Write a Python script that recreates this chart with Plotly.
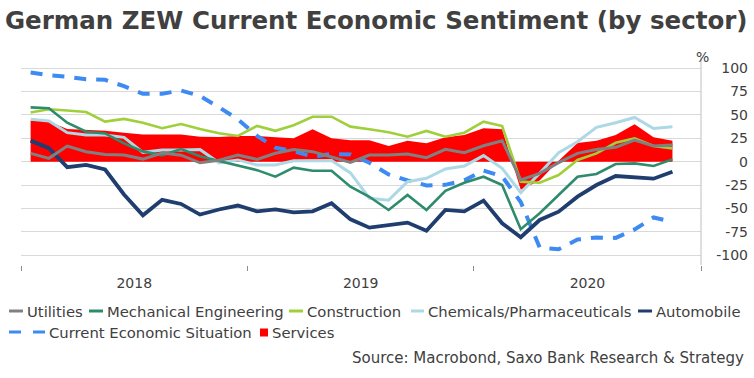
import plotly.graph_objects as go
import pandas as pd

# ---------------- data ----------------
months = pd.date_range("2018-01-01", "2020-11-01", freq="MS").strftime("%Y-%m").tolist()

utilities = [8.9, 3.6, 16.7, 10.7, 7.8, 7.1, 2.8, 9.2, 7.0, -1.2, 1.5, 7.1,
             2.5, 9.0, 13.0, 10.7, 5.0, -0.7, 7.1, 7.1, 8.2, 4.3, 13.2, 9.6,
             17.0, 22.4, -19.5, -12.4, -1.0, 8.9, 13.1, 15.3, 23.0, 16.7, 17.8]
mech_eng = [58.0, 57.0, 41.6, 32.0, 30.2, 19.6, 11.0, 6.8, 13.5, 5.8, 0.8, -4.3,
            -9.0, -16.0, -6.4, -9.6, -9.6, -26.7, -37.4, -51.5, -35.5, -51.5, -31.0, -22.4,
            -16.0, -24.9, -72.0, -55.0, -35.5, -16.0, -13.1, -2.5, -1.8, -4.6, 2.5]
construction = [52.5, 56.0, 54.6, 53.0, 42.8, 45.7, 41.5, 35.8, 40.2, 34.8, 30.4, 27.5,
                38.2, 33.0, 39.0, 48.0, 48.0, 37.4, 34.6, 31.4, 26.7, 32.8, 26.7, 31.0,
                42.7, 38.0, -21.3, -22.4, -14.2, 1.8, 8.9, 20.2, 24.9, 16.7, 14.2]
chemicals = [45.2, 43.4, 31.0, 28.4, 28.4, 26.0, 10.0, 12.6, 12.6, 13.0, -1.2, 1.9,
             -3.5, -3.5, 1.0, 1.5, 1.3, -12.0, -39.0, -41.0, -21.3, -17.7, -7.8, -4.6,
             6.5, -7.0, -33.0, -12.4, 9.6, 21.3, 36.6, 41.6, 47.2, 35.5, 37.3]
automobile = [22.5, 14.4, -5.8, -3.4, -8.3, -35.0, -57.2, -40.7, -45.1, -56.4, -51.0, -46.8,
              -53.0, -50.8, -54.0, -53.0, -44.4, -61.5, -70.4, -67.5, -65.0, -73.6, -51.5, -53.0,
              -41.5, -65.7, -80.6, -62.2, -53.3, -37.3, -24.9, -15.3, -16.7, -18.1, -10.7]
current_situation = [95.2, 92.3, 90.7, 87.9, 87.4, 80.6, 72.4, 72.6, 76.0, 70.1, 58.2, 45.3,
                     27.6, 15.0, 11.1, 5.5, 8.2, 7.8, -1.1, -13.5, -19.9, -25.3, -24.7, -19.9,
                     -9.5, -15.7, -43.1, -91.5, -93.5, -83.1, -80.9, -81.3, -72.3, -59.5, -64.3]
services = [44.0, 43.0, 35.0, 34.0, 33.0, 31.0, 29.0, 29.0, 29.0, 26.5, 26.3, 27.5,
            27.4, 26.0, 25.0, 34.6, 25.0, 23.0, 23.0, 16.8, 22.4, 19.6, 26.0, 28.5,
            35.6, 34.5, -30.0, -20.0, 1.0, 20.0, 22.4, 28.4, 40.0, 26.0, 22.4]

y_tick_vals = [-100, -75, -50, -25, 0, 25, 50, 75, 100]
y_tick_text = ["-100", "-75", "-50", "-25", "0", "25", "50", "75", "100"]

TITLE = "German ZEW Current Economic Sentiment (by sector)"
SOURCE = "Source: Macrobond, Saxo Bank Research & Strategy"

# ---------------- styling ----------------
W, H = 754, 378
ML, MR, MT, MB = 21, 6, 62, 113
PW, PH = W - ML - MR, H - MT - MB
X_END = 701
FONT = "DejaVu Sans"
TXT = "#404040"
LEG_SIZE = 14.8


def px(x):
    return (x - ML) / PW


def py(y):
    return (H - MB - y) / PH


C_UTIL = "#808080"
C_MECH = "#2e8b6c"
C_CONS = "#a0cf3c"
C_CHEM = "#add8e6"
C_AUTO = "#1f3d6e"
C_CURR = "#3d8bf2"
C_SERV = "#ff0000"
DASH = "12px,10px"

fig = go.Figure()

fig.add_trace(go.Scatter(x=months, y=services, name="Services", mode="lines",
                         fill="tozeroy", fillcolor=C_SERV, line=dict(width=0, color=C_SERV),
                         xperiod="M1", xperiodalignment="middle", showlegend=False))

lines = [
    ("Current Economic Situation", current_situation, C_CURR, 4, DASH),
    ("Automobile", automobile, C_AUTO, 3.8, "solid"),
    ("Chemicals/Pharmaceuticals", chemicals, C_CHEM, 3, "solid"),
    ("Construction", construction, C_CONS, 2.6, "solid"),
    ("Mechanical Engineering", mech_eng, C_MECH, 2.6, "solid"),
    ("Utilities", utilities, C_UTIL, 3, "solid"),
]
for name, vals, col, w, dash in lines:
    fig.add_trace(go.Scatter(x=months, y=vals, name=name, mode="lines",
                             line=dict(color=col, width=w, dash=dash),
                             xperiod="M1", xperiodalignment="middle", showlegend=False))

y_top = (161.7 - MT) / 0.937
y_bot = (161.7 - (H - MB)) / 0.937

fig.update_layout(
    width=W, height=H,
    margin=dict(l=ML, r=MR, t=MT, b=MB),
    paper_bgcolor="white", plot_bgcolor="white",
    font=dict(family=FONT, color=TXT, size=14),
    title=dict(text=TITLE, xref="container", yref="container", x=5 / W, xanchor="left",
               y=1 - 20 / H, yanchor="middle",
               font=dict(family=FONT, size=24.5, color=TXT, weight="bold")),
    xaxis=dict(type="date", domain=[0, px(X_END)], range=["2018-01-01", "2021-01-01"],
               tick0="2018-01-01", dtick="M12", tickformat="%Y", ticklabelmode="period",
               ticks="outside", ticklen=5, tickcolor="#8c8c8c", showgrid=False,
               zeroline=False, showline=False, tickfont=dict(size=14, color=TXT)),
    yaxis=dict(range=[y_bot, y_top], tickvals=y_tick_vals, ticktext=y_tick_text,
               side="left", anchor="free", position=1, showgrid=True, gridcolor="#d9d9d9",
               gridwidth=1, ticks="", zeroline=False, showline=False,
               tickfont=dict(size=14, color=TXT)),
    hovermode=False,
)

# right axis line
fig.add_shape(type="line", xref="x domain", yref="paper", x0=1, x1=1, y0=0, y1=py(57),
              line=dict(color="#bfbfbf", width=1))

annotations = [
    dict(text="%", x=px(702), y=py(57), xref="paper", yref="paper", xanchor="center",
         yanchor="middle", showarrow=False, font=dict(size=14, color=TXT)),
    dict(text=SOURCE, x=px(746), y=py(358), xref="paper", yref="paper", xanchor="right",
         yanchor="middle", showarrow=False, font=dict(size=15, color=TXT)),
]

# manual legend (row y, symbol x0, x1, text x)
legend_items = [
    ("Utilities", C_UTIL, "solid", 311, 9, 23, 25),
    ("Mechanical Engineering", C_MECH, "solid", 311, 89, 103, 105),
    ("Construction", C_CONS, "solid", 311, 289, 303, 305),
    ("Chemicals/Pharmaceuticals", C_CHEM, "solid", 311, 411, 424, 426),
    ("Automobile", C_AUTO, "solid", 311, 638, 652, 654),
    ("Current Economic Situation", C_CURR, "dash", 332, 9, 46, 47),
]
for name, col, dash, yy, x0, x1, xt in legend_items:
    fig.add_shape(type="line", xref="paper", yref="paper", x0=px(x0), x1=px(x1),
                  y0=py(yy), y1=py(yy),
                  line=dict(color=col, width=3, dash="12px,12px" if dash == "dash" else "solid"))
    annotations.append(dict(text=name, x=px(xt), y=py(yy), xref="paper", yref="paper",
                            xanchor="left", yanchor="middle", showarrow=False,
                            font=dict(size=LEG_SIZE, color=TXT)))
fig.add_shape(type="rect", xref="paper", yref="paper", x0=px(260), x1=px(268),
              y0=py(336.5), y1=py(328.5), fillcolor=C_SERV, line=dict(width=0))
annotations.append(dict(text="Services", x=px(270), y=py(332), xref="paper", yref="paper",
                        xanchor="left", yanchor="middle", showarrow=False,
                        font=dict(size=LEG_SIZE, color=TXT)))
fig.update_layout(annotations=annotations)

fig.write_html("out.html", config={"displayModeBar": False},
               post_script="document.body.style.margin='0px';")
